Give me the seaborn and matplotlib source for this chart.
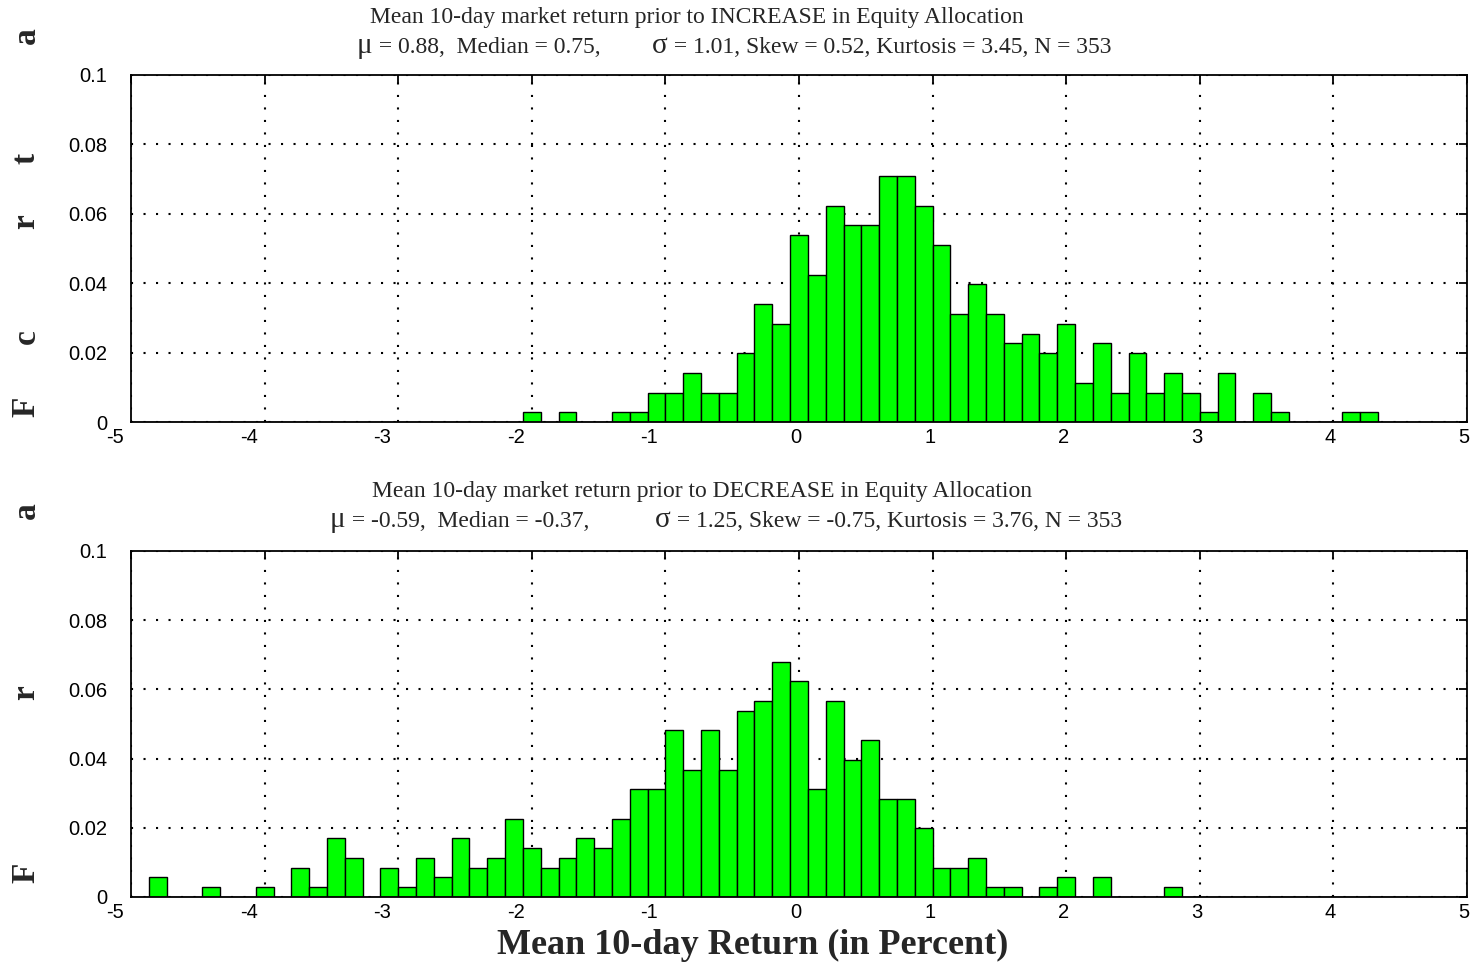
import numpy as np
import pandas as pd
import matplotlib
matplotlib.use("Agg")
import matplotlib.pyplot as plt
import seaborn as sns
from matplotlib.transforms import ScaledTranslation

# ---------------- data ----------------
N_OBS = 353
X_RANGE = (-5, 5)
N_BINS = 75  # bin width 2/15

# counts per bin, bins ordered from -5 to 5
increase_counts = [
    0, 0, 0, 0, 0, 0, 0, 0, 0, 0, 0, 0, 0, 0, 0,
    0, 0, 0, 0, 0, 0, 0, 1, 0, 1, 0, 0, 1, 1, 3,
    3, 5, 3, 3, 7, 12, 10, 19, 15, 22, 20, 20, 25, 25, 22,
    18, 11, 14, 11, 8, 9, 7, 10, 4, 8, 3, 7, 3, 5, 3,
    1, 5, 0, 3, 1, 0, 0, 0, 1, 1, 0, 0, 0, 0, 0,
]
decrease_counts = [
    0, 2, 0, 0, 1, 0, 0, 1, 0, 3, 1, 6, 4, 0, 3,
    1, 4, 2, 6, 3, 4, 8, 5, 3, 4, 6, 5, 8, 11, 11,
    17, 13, 17, 13, 19, 20, 24, 22, 11, 20, 14, 16, 10, 10, 7,
    3, 3, 4, 1, 1, 0, 1, 2, 0, 2, 0, 0, 0, 1, 0,
    0, 0, 0, 0, 0, 0, 0, 0, 0, 0, 0, 0, 0, 0, 0,
]

title_inc = "Mean 10-day market return prior to INCREASE in Equity Allocation"
stats_inc_a = ["\u03bc", " = 0.88,  Median = 0.75,"]
stats_inc_b = ["\u03c3", " = 1.01, Skew = 0.52, Kurtosis = 3.45, N = 353"]
title_dec = "Mean 10-day market return prior to DECREASE in Equity Allocation"
stats_dec_a = ["\u03bc", " = -0.59,  Median = -0.37,"]
stats_dec_b = ["\u03c3", " = 1.25, Skew = -0.75, Kurtosis = 3.76, N = 353"]

x_ticks = [-5, -4, -3, -2, -1, 0, 1, 2, 3, 4, 5]
x_tick_labels = ["-5", "-4", "-3", "-2", "-1", "0", "1", "2", "3", "4", "5"]
y_ticks = [0, 0.02, 0.04, 0.06, 0.08, 0.1]
y_tick_labels = ["0", "0.02", "0.04", "0.06", "0.08", "0.1"]
x_label = "Mean 10-day Return (in Percent)"

# ---------------- figure ----------------
sns.set_style("white")
plt.rcParams["font.family"] = ["Liberation Sans", "DejaVu Sans"]
plt.rcParams["axes.unicode_minus"] = False

W, H = 1477, 965
fig = plt.figure(figsize=(W / 100, H / 100), dpi=100)

edges = np.linspace(X_RANGE[0], X_RANGE[1], N_BINS + 1)
centers = (edges[:-1] + edges[1:]) / 2


def px_rect(left, top, right, bottom):
    return [left / W, 1 - bottom / H, (right - left) / W, (bottom - top) / H]


ax_top = fig.add_axes(px_rect(131, 75, 1467, 422))
ax_bot = fig.add_axes(px_rect(131, 551, 1467, 897))

for ax, counts in ((ax_top, increase_counts), (ax_bot, decrease_counts)):
    df = pd.DataFrame({"ret": centers, "frac": np.array(counts) / N_OBS})
    sns.histplot(data=df, x="ret", weights="frac", bins=list(edges), ax=ax,
                 color="#00ff00", edgecolor="black", linewidth=1.0,
                 alpha=1.0, stat="count")
    ax.set_xlim(*X_RANGE)
    ax.set_ylim(0, 0.1)
    ax.set_axisbelow(True)
    ax.grid(True, color="black", linestyle=(0, (1, 5)), linewidth=1.5)
    ax.set_xticks(x_ticks)
    ax.set_xticklabels(x_tick_labels)
    ax.set_yticks(y_ticks)
    ax.set_yticklabels(y_tick_labels)
    ax.set_xlabel("")
    ax.set_ylabel("")
    ax.tick_params(direction="in", length=6, width=1.3, top=True, right=True,
                   labelsize=14.5, colors="black")
    ax.tick_params(axis="y", pad=17)
    ax.tick_params(axis="x", pad=4)
    for sp in ax.spines.values():
        sp.set_visible(True)
        sp.set_color("black")
        sp.set_linewidth(1.3)
    for lab in ax.get_xticklabels():
        dx = -16 if lab.get_text().startswith("-") else -3
        lab.set_transform(lab.get_transform() + ScaledTranslation(dx / 100, 0, fig.dpi_scale_trans))

renderer = fig.canvas.get_renderer()
serif = ["Liberation Serif", "DejaVu Serif"]


def ftext(x, y, s, **kw):
    return fig.text(x / W, 1 - y / H, s, **kw)


def run_text(x, y, pieces, sizes):
    """Write consecutive pieces of text (different sizes) on one baseline."""
    for s, fs in zip(pieces, sizes):
        t = ftext(x, y, s, ha="left", va="baseline", family=serif, fontsize=fs)
        bb = t.get_window_extent(renderer=renderer)
        x += bb.width


ftext(697, 18, title_inc, ha="center", va="center", family=serif, fontsize=17)
run_text(357, 53, stats_inc_a, [21, 17])
run_text(652, 53, stats_inc_b, [21, 17])
ftext(702, 492, title_dec, ha="center", va="center", family=serif, fontsize=17)
run_text(330, 527, stats_dec_a, [21, 17])
run_text(655, 527, stats_dec_b, [21, 17])

ftext(753, 945, x_label, ha="center", va="center", family=serif,
      fontsize=26, fontweight="bold")

# fragmented y-axis label letters, as in the reference
for ch, yy in (("a", 36), ("t", 158), ("r", 222), ("c", 337), ("F", 407),
               ("a", 511), ("r", 693), ("F", 873)):
    ftext(26, yy, ch, ha="center", va="center", rotation=90, family=serif,
          fontsize=24, fontweight="bold")

fig.savefig("out.png", dpi=100)
